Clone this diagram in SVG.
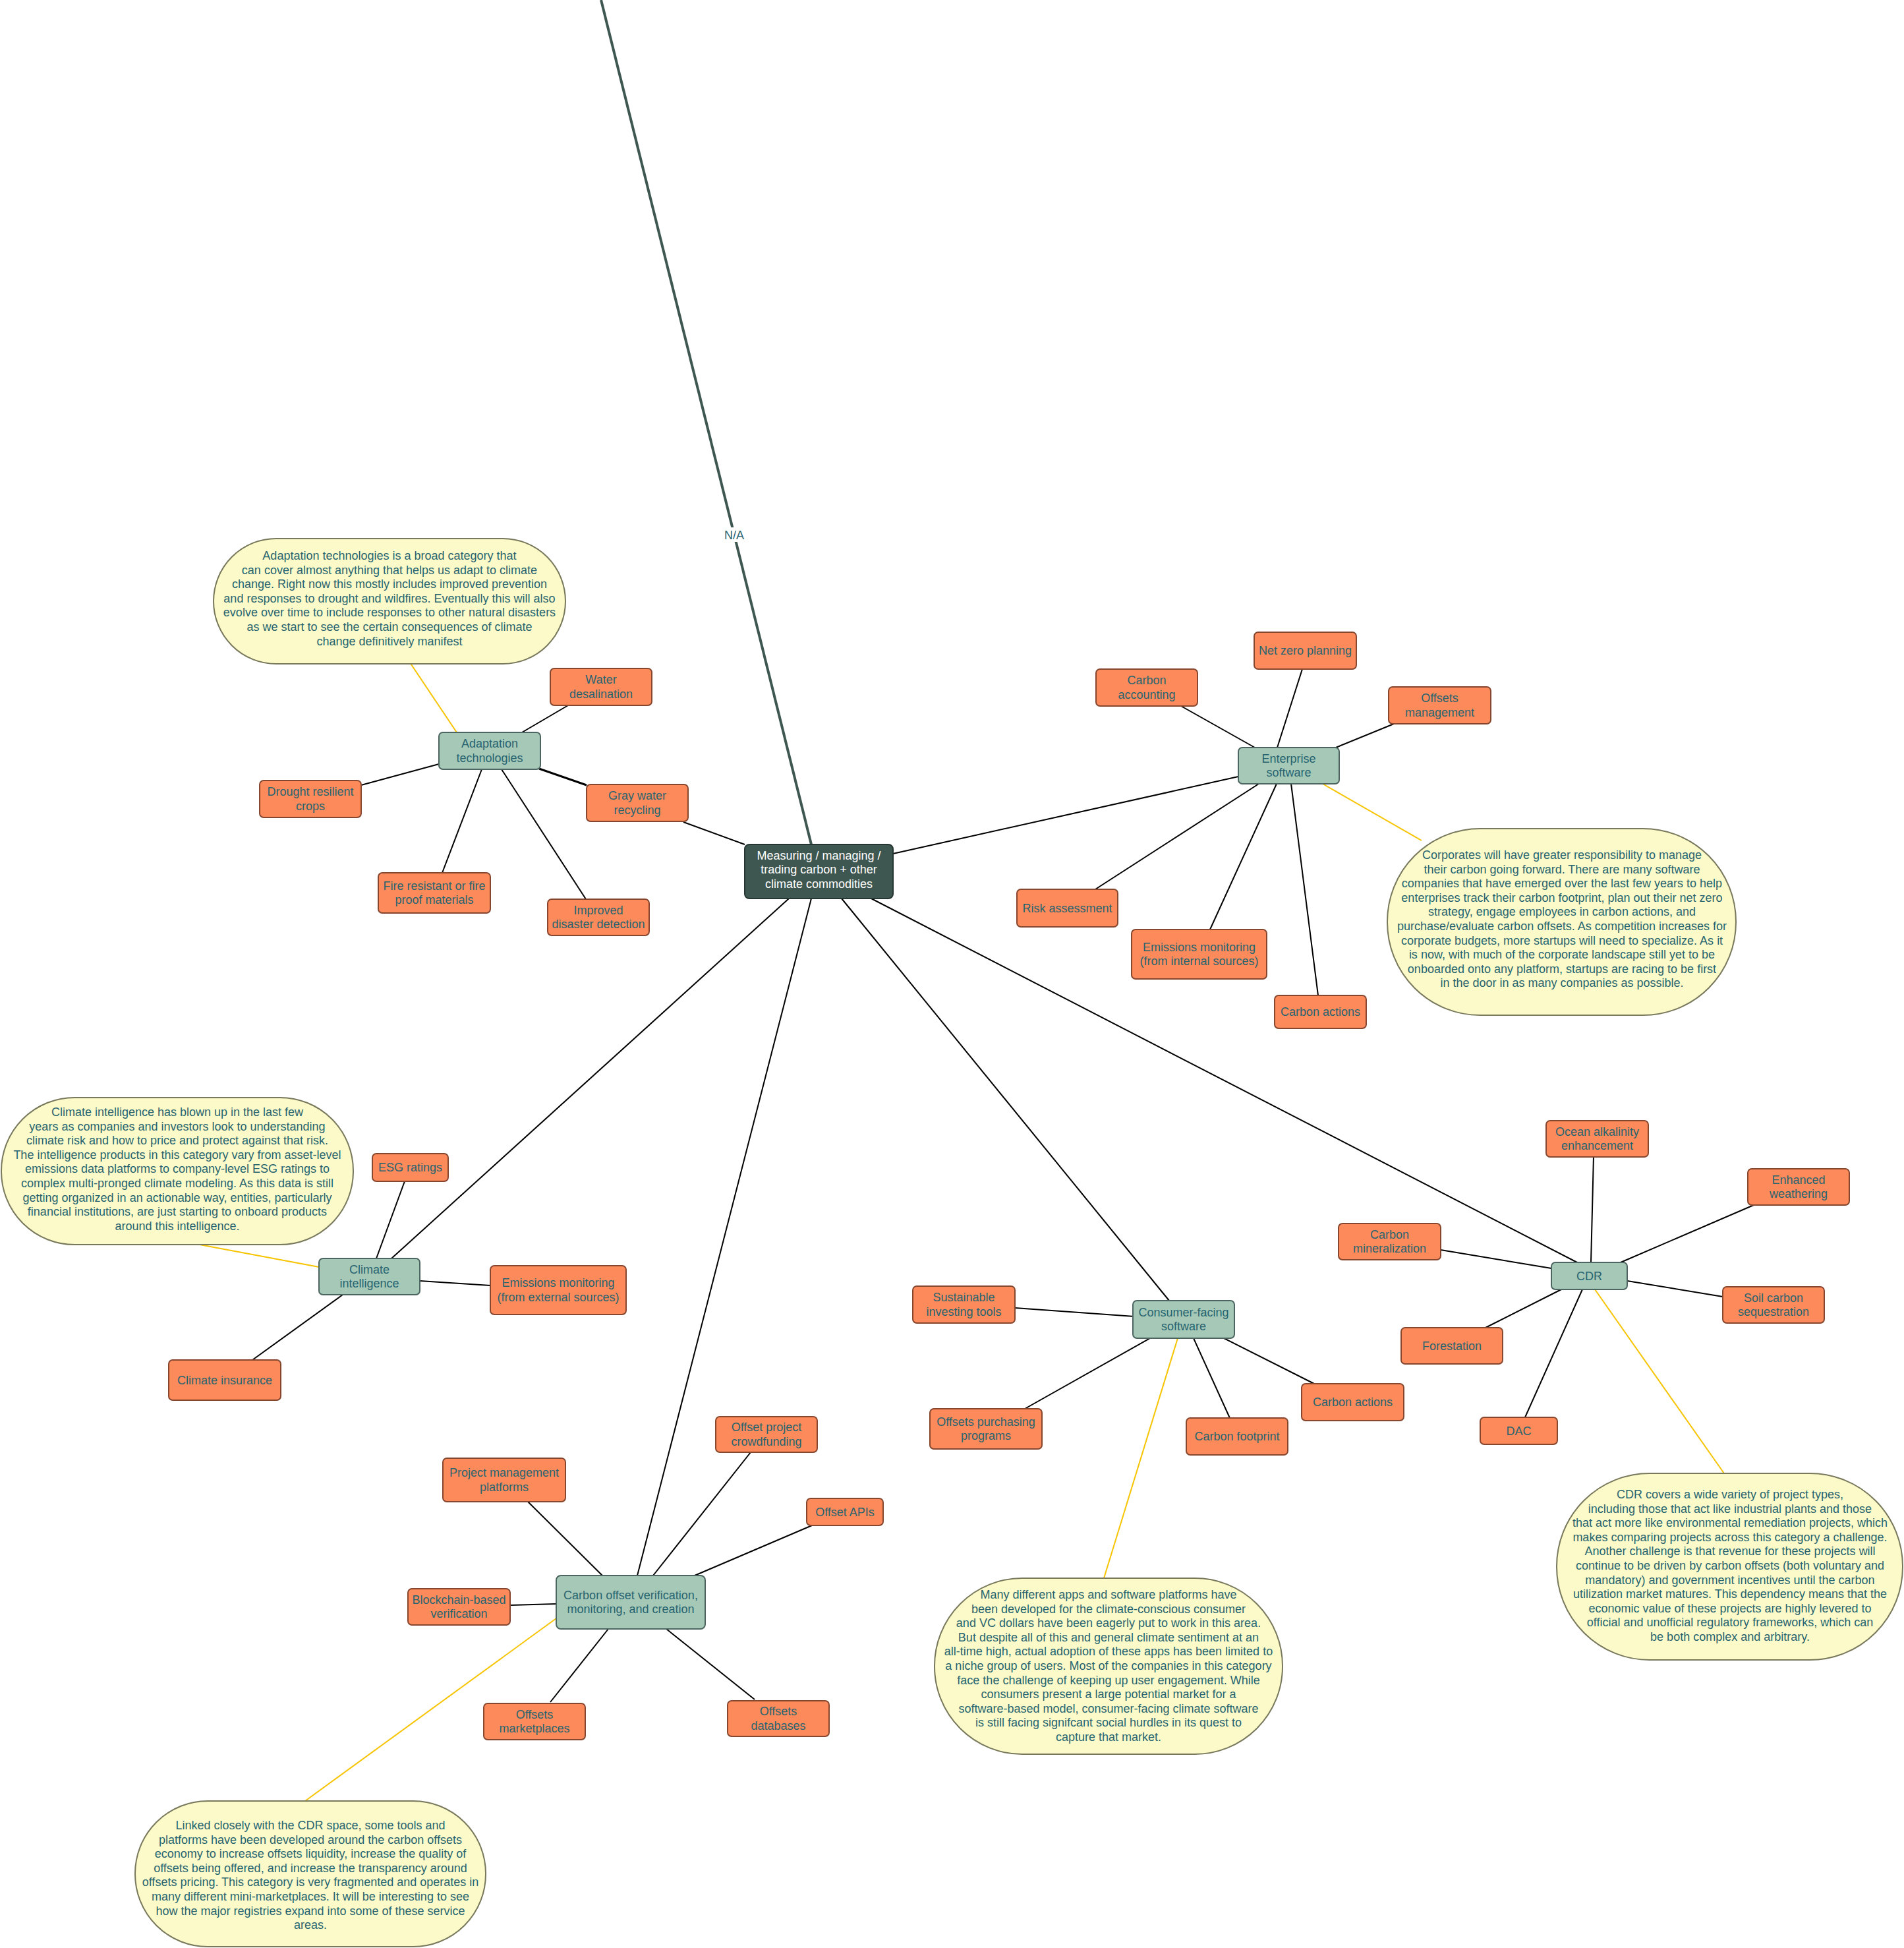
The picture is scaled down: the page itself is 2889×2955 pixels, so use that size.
<svg xmlns="http://www.w3.org/2000/svg" width="2889" height="2955" viewBox="0 0 2889 2955">
<style>
text{font-family:"Liberation Sans",Arial,sans-serif;font-size:18px;fill:#276470;text-anchor:middle}
.leaf rect{fill:#fd8a5a;stroke:#87472f;stroke-width:2}
.cat rect{fill:#a5c8b7;stroke:#4c6560;stroke-width:2}
.root rect{fill:#3f5751;stroke:#263632;stroke-width:2}
.root text{fill:#ffffff}
.note rect{fill:#fbfac8;stroke:#78785c;stroke-width:2}
.c line{stroke:#000;stroke-width:2}
.c line.y{stroke:#f6c400}
.c line.na{stroke:#3f5751;stroke-width:4}
</style>
<rect width="2889" height="2955" fill="#ffffff"/>
<g id="connectors" class="c">
<line class="na" x1="912" y1="0" x2="1231" y2="1281"/>
<rect x="1094" y="800" width="40" height="22" fill="#ffffff"/>
<text x="1114" y="818">N/A</text>
<line x1="1037" y1="1247" x2="1130" y2="1281"/>
<line x1="1355" y1="1295" x2="1879" y2="1178"/>
<line x1="1197" y1="1363" x2="594" y2="1909"/>
<line x1="1231" y1="1363" x2="967" y2="2390"/>
<line x1="1277" y1="1363" x2="1774" y2="1973"/>
<line x1="1322" y1="1363" x2="2393" y2="1915"/>
<line x1="792" y1="1111" x2="862" y2="1070"/>
<line x1="818" y1="1166" x2="890" y2="1191" style="stroke-width:3"/>
<line x1="731" y1="1167" x2="671" y2="1324"/>
<line x1="761" y1="1167" x2="889" y2="1364"/>
<line x1="666" y1="1159" x2="548" y2="1191"/>
<line class="y" x1="622" y1="1005" x2="693" y2="1111"/>
<line x1="1792" y1="1071" x2="1904" y2="1134"/>
<line x1="1976" y1="1015" x2="1938" y2="1134"/>
<line x1="2115" y1="1098" x2="2027" y2="1134"/>
<line x1="1910" y1="1189" x2="1662" y2="1349"/>
<line x1="1937" y1="1189" x2="1836" y2="1410"/>
<line x1="1959" y1="1189" x2="2000" y2="1510"/>
<line class="y" x1="2007" y1="1189" x2="2157" y2="1275"/>
<line x1="571" y1="1909" x2="614" y2="1792"/>
<line x1="637" y1="1943" x2="744" y2="1950"/>
<line x1="520" y1="1964" x2="383" y2="2063"/>
<line class="y" x1="303" y1="1888" x2="484" y2="1922"/>
<line x1="801" y1="2278" x2="914" y2="2390"/>
<line x1="1139" y1="2203" x2="991" y2="2390"/>
<line x1="1232" y1="2314" x2="1054" y2="2390"/>
<line x1="774" y1="2435" x2="844" y2="2433"/>
<line x1="923" y1="2471" x2="835" y2="2582"/>
<line x1="1011" y1="2471" x2="1145" y2="2578"/>
<line class="y" x1="844" y1="2455" x2="463" y2="2732"/>
<line x1="1540" y1="1984" x2="1721" y2="1997"/>
<line x1="1555" y1="2137" x2="1745" y2="2030"/>
<line x1="1866" y1="2151" x2="1811" y2="2030"/>
<line x1="1994" y1="2099" x2="1857" y2="2030"/>
<line class="y" x1="1787" y1="2030" x2="1675" y2="2394"/>
<line x1="2418" y1="1754" x2="2414" y2="1915"/>
<line x1="2661" y1="1828" x2="2459" y2="1915"/>
<line x1="2186" y1="1896" x2="2354" y2="1924"/>
<line x1="2614" y1="1967" x2="2469" y2="1943"/>
<line x1="2254" y1="2014" x2="2369" y2="1956"/>
<line x1="2314" y1="2150" x2="2401" y2="1956"/>
<line class="y" x1="2420" y1="1956" x2="2616" y2="2235"/>
</g>
<g id="root" class="root"><rect x="1130" y="1281" width="225" height="82" rx="7"/><text x="1242.5" y="1303.5">Measuring / managing /<tspan x="1242.5" dy="21.6">trading carbon + other</tspan><tspan x="1242.5" dy="21.6">climate commodities</tspan></text></g>

<g id="adaptation" class="cat"><rect x="666" y="1111" width="154" height="56" rx="6"/><text x="743" y="1134">Adaptation<tspan x="743" dy="21.6">technologies</tspan></text></g>
<g id="water" class="leaf"><rect x="835" y="1014" width="154" height="56" rx="6"/><text x="912" y="1037">Water<tspan x="912" dy="21.6">desalination</tspan></text></g>
<g id="graywater" class="leaf"><rect x="890" y="1190" width="154" height="56" rx="6"/><text x="967" y="1213">Gray water<tspan x="967" dy="21.6">recycling</tspan></text></g>
<g id="improved" class="leaf"><rect x="831" y="1364" width="154" height="55" rx="6"/><text x="908" y="1386.5">Improved<tspan x="908" dy="21.6">disaster detection</tspan></text></g>
<g id="fire" class="leaf"><rect x="574" y="1324" width="170" height="61" rx="6"/><text x="659" y="1349.5">Fire resistant or fire<tspan x="659" dy="21.6">proof materials</tspan></text></g>
<g id="drought" class="leaf"><rect x="394" y="1184" width="154" height="56" rx="6"/><text x="471" y="1207">Drought resilient<tspan x="471" dy="21.6">crops</tspan></text></g>

<g id="enterprise" class="cat"><rect x="1879" y="1134" width="153" height="55" rx="6"/><text x="1955.5" y="1156.5">Enterprise<tspan x="1955.5" dy="21.6">software</tspan></text></g>
<g id="accounting" class="leaf"><rect x="1663" y="1015" width="154" height="56" rx="6"/><text x="1740" y="1038">Carbon<tspan x="1740" dy="21.6">accounting</tspan></text></g>
<g id="netzero" class="leaf"><rect x="1903" y="959" width="155" height="56" rx="6"/><text x="1980.5" y="993">Net zero planning</text></g>
<g id="offsetsmgmt" class="leaf"><rect x="2107" y="1042" width="155" height="56" rx="6"/><text x="2184.5" y="1065">Offsets<tspan x="2184.5" dy="21.6">management</tspan></text></g>
<g id="risk" class="leaf"><rect x="1543" y="1349" width="153" height="57" rx="6"/><text x="1619.5" y="1383.5">Risk assessment</text></g>
<g id="emissionsint" class="leaf"><rect x="1717" y="1410" width="205" height="75" rx="6"/><text x="1819.5" y="1442.5">Emissions monitoring<tspan x="1819.5" dy="21.6">(from internal sources)</tspan></text></g>
<g id="actions1" class="leaf"><rect x="1934" y="1510" width="139" height="50" rx="6"/><text x="2003.5" y="1541">Carbon actions</text></g>

<g id="climateintel" class="cat"><rect x="484" y="1909" width="153" height="55" rx="6"/><text x="560.5" y="1931.5">Climate<tspan x="560.5" dy="21.6">intelligence</tspan></text></g>
<g id="esg" class="leaf"><rect x="565" y="1750" width="115" height="42" rx="6"/><text x="622.5" y="1777">ESG ratings</text></g>
<g id="emissionsext" class="leaf"><rect x="744" y="1920" width="206" height="74" rx="6"/><text x="847" y="1952">Emissions monitoring<tspan x="847" dy="21.6">(from external sources)</tspan></text></g>
<g id="insurance" class="leaf"><rect x="256" y="2063" width="170" height="61" rx="6"/><text x="341" y="2099.5">Climate insurance</text></g>

<g id="cov" class="cat"><rect x="844" y="2390" width="226" height="81" rx="7"/><text x="957" y="2425.5">Carbon offset verification,<tspan x="957" dy="21.6">monitoring, and creation</tspan></text></g>
<g id="pmp" class="leaf"><rect x="672" y="2212" width="186" height="66" rx="6"/><text x="765" y="2240">Project management<tspan x="765" dy="21.6">platforms</tspan></text></g>
<g id="crowdfunding" class="leaf"><rect x="1086" y="2149" width="154" height="54" rx="6"/><text x="1163" y="2171">Offset project<tspan x="1163" dy="21.6">crowdfunding</tspan></text></g>
<g id="apis" class="leaf"><rect x="1224" y="2273" width="116" height="41" rx="6"/><text x="1282" y="2299.5">Offset APIs</text></g>
<g id="blockchain" class="leaf"><rect x="619" y="2410" width="155" height="55" rx="6"/><text x="696.5" y="2432.5">Blockchain-based<tspan x="696.5" dy="21.6">verification</tspan></text></g>
<g id="marketplaces" class="leaf"><rect x="734" y="2584" width="154" height="55" rx="6"/><text x="811" y="2606.5">Offsets<tspan x="811" dy="21.6">marketplaces</tspan></text></g>
<g id="databases" class="leaf"><rect x="1104" y="2580" width="154" height="54" rx="6"/><text x="1181" y="2602">Offsets<tspan x="1181" dy="21.6">databases</tspan></text></g>

<g id="consumer" class="cat"><rect x="1719" y="1973" width="154" height="57" rx="6"/><text x="1796" y="1996.5">Consumer-facing<tspan x="1796" dy="21.6">software</tspan></text></g>
<g id="sustainable" class="leaf"><rect x="1385" y="1951" width="155" height="56" rx="6"/><text x="1462.5" y="1974">Sustainable<tspan x="1462.5" dy="21.6">investing tools</tspan></text></g>
<g id="purchasing" class="leaf"><rect x="1411" y="2137" width="170" height="61" rx="6"/><text x="1496" y="2162.5">Offsets purchasing<tspan x="1496" dy="21.6">programs</tspan></text></g>
<g id="footprint" class="leaf"><rect x="1800" y="2151" width="154" height="56" rx="6"/><text x="1877" y="2185">Carbon footprint</text></g>
<g id="actions2" class="leaf"><rect x="1975" y="2099" width="155" height="56" rx="6"/><text x="2052.5" y="2133">Carbon actions</text></g>

<g id="cdr" class="cat"><rect x="2354" y="1915" width="115" height="41" rx="6"/><text x="2411.5" y="1941.5">CDR</text></g>
<g id="ocean" class="leaf"><rect x="2346" y="1700" width="155" height="55" rx="6"/><text x="2423.5" y="1722.5">Ocean alkalinity<tspan x="2423.5" dy="21.6">enhancement</tspan></text></g>
<g id="weathering" class="leaf"><rect x="2652" y="1773" width="154" height="55" rx="6"/><text x="2729" y="1795.5">Enhanced<tspan x="2729" dy="21.6">weathering</tspan></text></g>
<g id="mineralization" class="leaf"><rect x="2031" y="1856" width="155" height="55" rx="6"/><text x="2108.5" y="1878.5">Carbon<tspan x="2108.5" dy="21.6">mineralization</tspan></text></g>
<g id="soil" class="leaf"><rect x="2614" y="1952" width="154" height="55" rx="6"/><text x="2691" y="1974.5">Soil carbon<tspan x="2691" dy="21.6">sequestration</tspan></text></g>
<g id="forestation" class="leaf"><rect x="2126" y="2014" width="154" height="55" rx="6"/><text x="2203" y="2047.5">Forestation</text></g>
<g id="dac" class="leaf"><rect x="2246" y="2150" width="117" height="41" rx="6"/><text x="2304.5" y="2176.5">DAC</text></g>

<g id="note-adaptation" class="note"><rect x="324" y="817" width="534" height="190" rx="95"/><text x="591" y="849">Adaptation technologies is a broad category that<tspan x="591" dy="21.6">can cover almost anything that helps us adapt to climate</tspan><tspan x="591" dy="21.6">change. Right now this mostly includes improved prevention</tspan><tspan x="591" dy="21.6">and responses to drought and wildfires. Eventually this will also</tspan><tspan x="591" dy="21.6">evolve over time to include responses to other natural disasters</tspan><tspan x="591" dy="21.6">as we start to see the certain consequences of climate</tspan><tspan x="591" dy="21.6">change definitively manifest</tspan></text></g>

<g id="note-enterprise" class="note"><rect x="2105" y="1257" width="529" height="283" rx="141"/><text x="2370" y="1303">Corporates will have greater responsibility to manage<tspan x="2370" dy="21.6">their carbon going forward. There are many software</tspan><tspan x="2370" dy="21.6">companies that have emerged over the last few years to help</tspan><tspan x="2370" dy="21.6">enterprises track their carbon footprint, plan out their net zero</tspan><tspan x="2370" dy="21.6">strategy, engage employees in carbon actions, and</tspan><tspan x="2370" dy="21.6">purchase/evaluate carbon offsets. As competition increases for</tspan><tspan x="2370" dy="21.6">corporate budgets, more startups will need to specialize. As it</tspan><tspan x="2370" dy="21.6">is now, with much of the corporate landscape still yet to be</tspan><tspan x="2370" dy="21.6">onboarded onto any platform, startups are racing to be first</tspan><tspan x="2370" dy="21.6">in the door in as many companies as possible.</tspan></text></g>

<g id="note-climateintel" class="note"><rect x="2" y="1665" width="534" height="223" rx="111"/><text x="269" y="1693">Climate intelligence has blown up in the last few<tspan x="269" dy="21.6">years as companies and investors look to understanding</tspan><tspan x="269" dy="21.6">climate risk and how to price and protect against that risk.</tspan><tspan x="269" dy="21.6">The intelligence products in this category vary from asset-level</tspan><tspan x="269" dy="21.6">emissions data platforms to company-level ESG ratings to</tspan><tspan x="269" dy="21.6">complex multi-pronged climate modeling. As this data is still</tspan><tspan x="269" dy="21.6">getting organized in an actionable way, entities, particularly</tspan><tspan x="269" dy="21.6">financial institutions, are just starting to onboard products</tspan><tspan x="269" dy="21.6">around this intelligence.</tspan></text></g>

<g id="note-cov" class="note"><rect x="205" y="2732" width="532" height="221" rx="110"/><text x="471" y="2775">Linked closely with the CDR space, some tools and<tspan x="471" dy="21.6">platforms have been developed around the carbon offsets</tspan><tspan x="471" dy="21.6">economy to increase offsets liquidity, increase the quality of</tspan><tspan x="471" dy="21.6">offsets being offered, and increase the transparency around</tspan><tspan x="471" dy="21.6">offsets pricing. This category is very fragmented and operates in</tspan><tspan x="471" dy="21.6">many different mini-marketplaces. It will be interesting to see</tspan><tspan x="471" dy="21.6">how the major registries expand into some of these service</tspan><tspan x="471" dy="21.6">areas.</tspan></text></g>

<g id="note-consumer" class="note"><rect x="1418" y="2394" width="528" height="267" rx="133"/><text x="1682" y="2425">Many different apps and software platforms have<tspan x="1682" dy="21.6">been developed for the climate-conscious consumer</tspan><tspan x="1682" dy="21.6">and VC dollars have been eagerly put to work in this area.</tspan><tspan x="1682" dy="21.6">But despite all of this and general climate sentiment at an</tspan><tspan x="1682" dy="21.6">all-time high, actual adoption of these apps has been limited to</tspan><tspan x="1682" dy="21.6">a niche group of users. Most of the companies in this category</tspan><tspan x="1682" dy="21.6">face the challenge of keeping up user engagement. While</tspan><tspan x="1682" dy="21.6">consumers present a large potential market for a</tspan><tspan x="1682" dy="21.6">software-based model, consumer-facing climate software</tspan><tspan x="1682" dy="21.6">is still facing signifcant social hurdles in its quest to</tspan><tspan x="1682" dy="21.6">capture that market.</tspan></text></g>

<g id="note-cdr" class="note"><rect x="2362" y="2235" width="525" height="283" rx="141"/><text x="2625" y="2273">CDR covers a wide variety of project types,<tspan x="2625" dy="21.6">including those that act like industrial plants and those</tspan><tspan x="2625" dy="21.6">that act more like environmental remediation projects, which</tspan><tspan x="2625" dy="21.6">makes comparing projects across this category a challenge.</tspan><tspan x="2625" dy="21.6">Another challenge is that revenue for these projects will</tspan><tspan x="2625" dy="21.6">continue to be driven by carbon offsets (both voluntary and</tspan><tspan x="2625" dy="21.6">mandatory) and government incentives until the carbon</tspan><tspan x="2625" dy="21.6">utilization market matures. This dependency means that the</tspan><tspan x="2625" dy="21.6">economic value of these projects are highly levered to</tspan><tspan x="2625" dy="21.6">official and unofficial regulatory frameworks, which can</tspan><tspan x="2625" dy="21.6">be both complex and arbitrary.</tspan></text></g>
</svg>
